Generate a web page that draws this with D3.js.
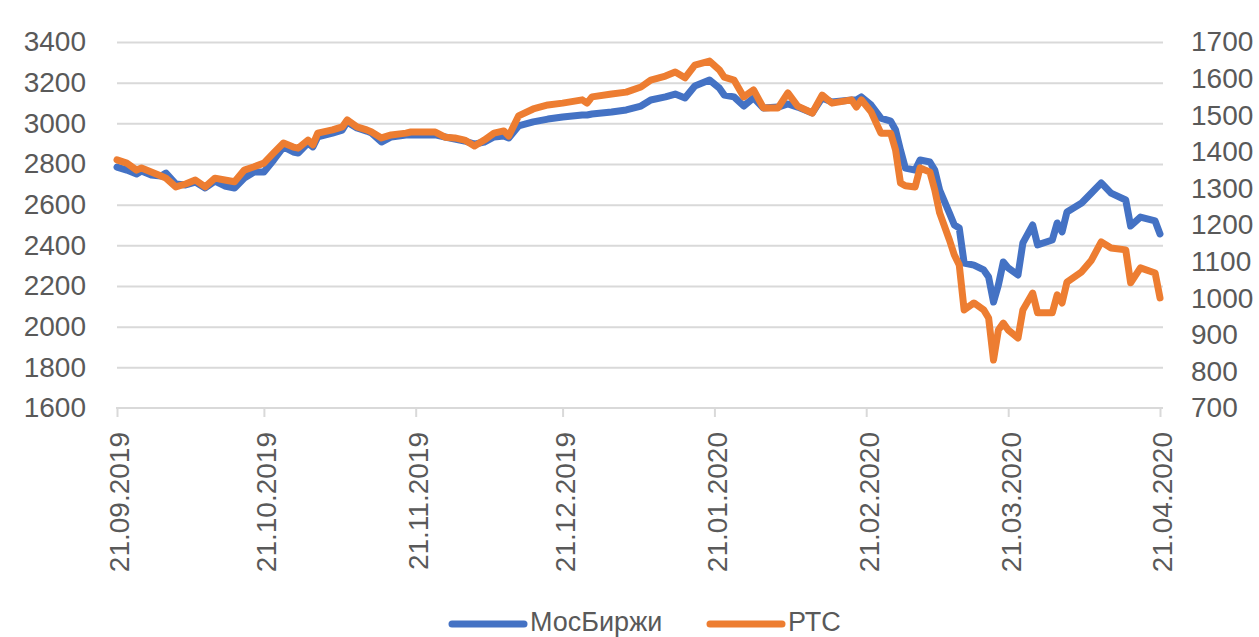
<!DOCTYPE html>
<html>
<head>
<meta charset="utf-8">
<script src="https://cdn.jsdelivr.net/npm/d3@7"></script>
<style>
  body { margin: 0; background: #fff; }
  text { font-family: "Liberation Sans", Arial, sans-serif; fill: #595959; }
</style>
</head>
<body>
<div id="content"></div>
<script>
const width = 1259;
const height = 637;
const blue = '#4472C4';
const orange = '#ED7D31';
const grid = '#d9d9d9';

// dates of the points
const dates = [
  '2019-09-21', '2019-09-23', '2019-09-25', '2019-09-26', '2019-09-28', '2019-09-30',
  '2019-10-01', '2019-10-03', '2019-10-05', '2019-10-07', '2019-10-09', '2019-10-11', '2019-10-13', '2019-10-15', '2019-10-17', '2019-10-19',
  '2019-10-21', '2019-10-23', '2019-10-25', '2019-10-27', '2019-10-28', '2019-10-30', '2019-10-31',
  '2019-11-01', '2019-11-04', '2019-11-06', '2019-11-07', '2019-11-09', '2019-11-11', '2019-11-12', '2019-11-14', '2019-11-16', '2019-11-19', '2019-11-20',
  '2019-11-25', '2019-11-27', '2019-11-29',
  '2019-12-01', '2019-12-03', '2019-12-05', '2019-12-07', '2019-12-09', '2019-12-10', '2019-12-12', '2019-12-15', '2019-12-18', '2019-12-21', '2019-12-25', '2019-12-26', '2019-12-27', '2019-12-31',
  '2020-01-03', '2020-01-06', '2020-01-08', '2020-01-11', '2020-01-13', '2020-01-15', '2020-01-17', '2020-01-20', '2020-01-22', '2020-01-23', '2020-01-25', '2020-01-27', '2020-01-29', '2020-01-31',
  '2020-02-03', '2020-02-05', '2020-02-07', '2020-02-10', '2020-02-12', '2020-02-14', '2020-02-18', '2020-02-19', '2020-02-20', '2020-02-22', '2020-02-24', '2020-02-26', '2020-02-27', '2020-02-28', '2020-02-29',
  '2020-03-02', '2020-03-03', '2020-03-05', '2020-03-06', '2020-03-07', '2020-03-09', '2020-03-10', '2020-03-11', '2020-03-12', '2020-03-14', '2020-03-16', '2020-03-17', '2020-03-18', '2020-03-19', '2020-03-20', '2020-03-21',
  '2020-03-23', '2020-03-24', '2020-03-26', '2020-03-27', '2020-03-30', '2020-03-31', '2020-04-01', '2020-04-02', '2020-04-05', '2020-04-07', '2020-04-09', '2020-04-11', '2020-04-14', '2020-04-15', '2020-04-17', '2020-04-20', '2020-04-21'
];

// МосБиржи, left axis
const moex = [
  2785, 2770, 2751, 2766, 2746, 2741,
  2755, 2702, 2697, 2711, 2682, 2716, 2692, 2682, 2731, 2761,
  2761, 2820, 2884, 2859, 2854, 2903, 2884,
  2933, 2952, 2967, 3007, 2977, 2962, 2952, 2908, 2933, 2943, 2943,
  2943, 2933, 2923,
  2913, 2898, 2908, 2933, 2938, 2928, 2987, 3007, 3021, 3031, 3041, 3041, 3046, 3056,
  3066, 3085, 3115, 3130, 3144, 3125, 3184, 3213, 3174, 3139, 3130, 3085, 3125, 3075,
  3080, 3095, 3080, 3051, 3125, 3105, 3115, 3115, 3130, 3090, 3026, 3011, 2967, 2869, 2780,
  2770, 2820, 2810, 2770, 2672, 2559, 2500, 2485, 2313, 2303, 2279, 2244, 2121, 2205, 2318, 2289,
  2254, 2412, 2500, 2402, 2426, 2510, 2466, 2564, 2608, 2657, 2707, 2657, 2623, 2495, 2539, 2520, 2456
];

// РТС, right axis
const rts = [
  1378, 1369, 1350, 1356, 1345, 1334,
  1328, 1304, 1312, 1323, 1304, 1328, 1323, 1318, 1350, 1359,
  1369, 1397, 1424, 1413, 1410, 1432, 1419,
  1451, 1460, 1468, 1487, 1468, 1460, 1454, 1438, 1446, 1451, 1454,
  1454, 1440, 1438,
  1432, 1416, 1432, 1451, 1457, 1443, 1498, 1517, 1528, 1533, 1542, 1533, 1550, 1558,
  1563, 1577, 1596, 1607, 1618, 1602, 1637, 1648, 1624, 1604, 1596, 1550, 1569, 1520,
  1520, 1561, 1525, 1506, 1555, 1533, 1542, 1522, 1542, 1509, 1451, 1451, 1405, 1315, 1307,
  1304, 1356, 1345, 1296, 1233, 1159, 1118, 1091, 968, 987, 968, 946, 831, 913, 932, 913,
  891, 968, 1014, 960, 960, 1009, 987, 1044, 1072, 1104, 1154, 1137, 1132, 1042, 1083, 1069, 1001
];

const xTicks = ['2019-09-21', '2019-10-21', '2019-11-21', '2019-12-21', '2020-01-21', '2020-02-21', '2020-03-21', '2020-04-21'];
const leftTicks = [1600, 1800, 2000, 2200, 2400, 2600, 2800, 3000, 3200, 3400];
const rightTicks = [700, 800, 900, 1000, 1100, 1200, 1300, 1400, 1500, 1600, 1700];

const parse = d3.timeParse('%Y-%m-%d');
const plotLeft = 117;
const plotRight = 1160;
const plotTop = 42;
const plotBottom = 408;

const x = d3.scaleTime()
  .domain([parse('2019-09-21'), parse('2020-04-21')])
  .range([plotLeft, plotRight]);
const yLeft = d3.scaleLinear().domain([1600, 3400]).range([plotBottom, plotTop]);
const yRight = d3.scaleLinear().domain([700, 1700]).range([plotBottom, plotTop]);

const svg = d3.select('#content')
  .append('svg')
  .attr('width', width)
  .attr('height', height);

// gridlines
svg.append('g')
  .attr('transform', `translate(${plotLeft},0)`)
  .call(d3.axisLeft(yLeft).tickValues(leftTicks.slice(1)).tickSize(-(plotRight - plotLeft + 3)).tickFormat(''))
  .call(g => g.select('.domain').remove())
  .call(g => g.selectAll('line').attr('stroke', grid).attr('stroke-width', 2));

// left axis labels
svg.append('g')
  .attr('transform', 'translate(86,0)')
  .call(d3.axisLeft(yLeft).tickValues(leftTicks).tickSize(0).tickPadding(0).tickFormat(d3.format('d')))
  .call(g => g.select('.domain').remove())
  .call(g => g.selectAll('text').style('font-size', '28px').attr('fill', '#595959'));

// right axis labels
svg.append('g')
  .attr('transform', 'translate(1191,0)')
  .call(d3.axisRight(yRight).tickValues(rightTicks).tickSize(0).tickPadding(0).tickFormat(d3.format('d')))
  .call(g => g.select('.domain').remove())
  .call(g => g.selectAll('text').style('font-size', '28px').attr('fill', '#595959'));

// x axis
const fmt = d3.timeFormat('%d.%m.%Y');
svg.append('g')
  .attr('transform', `translate(0,${plotBottom})`)
  .call(d3.axisBottom(x).tickValues(xTicks.map(parse)).tickSize(9).tickSizeOuter(0).tickFormat(fmt))
  .call(g => g.select('.domain').attr('stroke', grid).attr('stroke-width', 2).attr('d', `M${plotLeft - 1},0H${plotRight + 3}`))
  .call(g => g.selectAll('line').attr('stroke', grid).attr('stroke-width', 2))
  .call(g => g.selectAll('text')
    .style('font-size', '28px')
    .attr('fill', '#595959')
    .attr('text-anchor', 'end')
    .attr('dy', '0.35em')
    .attr('transform', 'translate(2,24) rotate(-90)')
    .attr('x', 0)
    .attr('y', 0));

// lines
const series = [
  { name: 'МосБиржи', values: moex, y: yLeft, color: blue },
  { name: 'РТС', values: rts, y: yRight, color: orange }
];

series.forEach((s) => {
  const line = d3.line()
    .x((d, i) => x(parse(dates[i])))
    .y(d => s.y(d));
  svg.append('path')
    .datum(s.values)
    .attr('d', line)
    .attr('fill', 'none')
    .attr('stroke', s.color)
    .attr('stroke-width', 7)
    .attr('stroke-linejoin', 'round')
    .attr('stroke-linecap', 'round');
});

// legend
const legendX = [452, 710];
const legend = svg.append('g');
series.forEach((s, i) => {
  legend.append('line')
    .attr('x1', legendX[i])
    .attr('x2', legendX[i] + 72)
    .attr('y1', 624)
    .attr('y2', 624)
    .attr('stroke', s.color)
    .attr('stroke-width', 7)
    .attr('stroke-linecap', 'round');
  legend.append('text')
    .attr('x', legendX[i] + 78)
    .attr('y', 631)
    .style('font-size', '27px')
    .text(s.name);
});
</script>
</body>
</html>
